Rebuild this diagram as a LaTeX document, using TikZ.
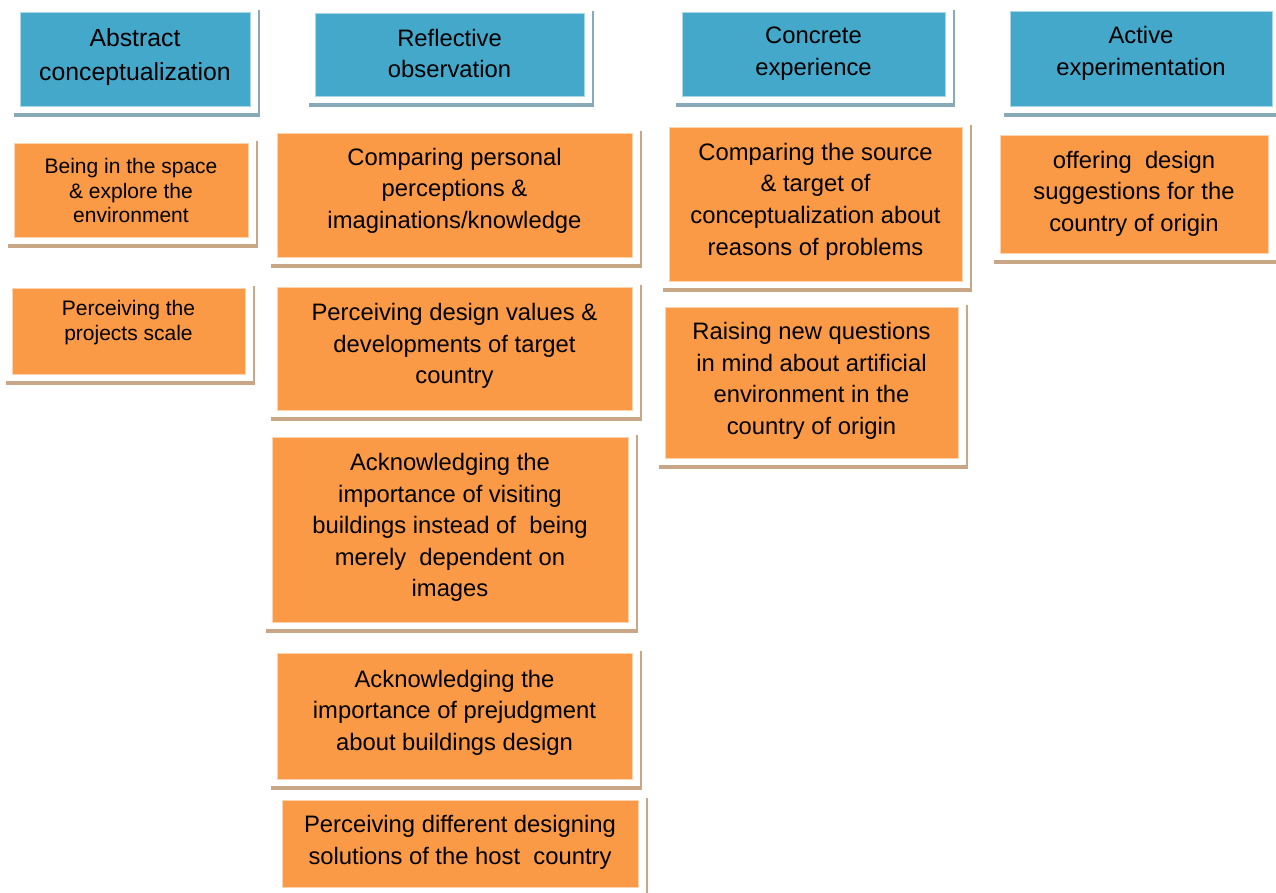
\documentclass[tikz,border=0pt]{standalone}
\usepackage{fontspec}
\setmainfont{Liberation Sans}
\usetikzlibrary{fit}

\definecolor{hdfill}{HTML}{44A8CA}
\definecolor{hdedge}{HTML}{A9D7E7}
\definecolor{hdshade}{HTML}{88A9B7}
\definecolor{itfill}{HTML}{FB9A46}
\definecolor{itedge}{HTML}{FDD3B0}
\definecolor{itshade}{HTML}{C9A686}

\tikzset{
  hdbox/.style={fill=hdfill, draw=hdedge, line width=0.8bp},
  itbox/.style={fill=itfill, draw=itedge, line width=0.8bp},
  hdshadow/.style={fill=hdshade},
  itshadow/.style={fill=itshade},
  txtbig/.style={font=\fontsize{23.8bp}{31.6bp}\selectfont, align=center, inner sep=0pt, yshift=-2.5bp},
  txtsmall/.style={font=\fontsize{21bp}{24.5bp}\selectfont, align=center, inner sep=0pt, yshift=-0.5bp},
  txttitle/.style={font=\fontsize{24.8bp}{34bp}\selectfont, align=center, inner sep=0pt, yshift=-2bp},
}

% #1 name, #2 kind (hd/it), #3-#6 left, top, right, bottom, #7 text centre y, #8 text style, #9 text
\newcommand\card[9]{%
  \fill[#2shadow] (#3-6,#4-2) rectangle (#5+10,#6+11);
  \fill[white] (#3-6,#4-3) rectangle (#5+8,#6+7);
  \node[#2box, fit={(#3,#4) (#5,#6)}, inner sep=0pt] (#1) {};
  \node[#8] (#1-t) at ({(#3+#5)/2},#7) {#9};
}

\begin{document}
\begin{tikzpicture}[x=1bp, y=-1bp]
  \useasboundingbox (0,0) rectangle (1276,893);
  \clip (0,0) rectangle (1276,893);
  \fill[white] (0,0) rectangle (1276,893);

  % column headings
  \card{abs}{hd}{20}{12}{250}{106}{55}{txttitle}{Abstract\\conceptualization}
  \card{ref}{hd}{315}{13}{584}{96}{51}{txtbig}{Reflective\\observation}
  \card{con}{hd}{682}{12}{945}{96}{51}{txtbig}{Concrete\\experience}
  \card{act}{hd}{1010}{11}{1272}{106}{51}{txtbig}{Active\\experimentation}

  % abstract conceptualization
  \card{abs1}{it}{14}{143}{248}{237}{190}{txtsmall}{Being in the space\\\& explore the\\environment}
  \card{abs2}{it}{12}{288}{245}{374}{322}{txtsmall}{Perceiving the\\projects scale}

  % reflective observation
  \card{ref1}{it}{277}{133}{632}{257}{188}{txtbig}{Comparing personal\\perceptions \&\\imaginations/knowledge}
  \card{ref2}{it}{277}{287}{632}{410}{343.5}{txtbig}{Perceiving design values \&\\developments of target\\country}
  \card{ref3}{it}{272}{437}{628}{622}{525}{txtbig}{Acknowledging the\\importance of visiting\\buildings instead of\ \ being\\merely\ \ dependent on\\images}
  \card{ref4}{it}{277}{653}{632}{779}{710}{txtbig}{Acknowledging the\\importance of prejudgment\\about buildings design}
  \card{ref5}{it}{282}{800}{638}{887}{840}{txtbig}{Perceiving different designing\\solutions of the host\ \ country}

  % concrete experience
  \card{con1}{it}{669}{127}{962}{281}{199}{txtbig}{Comparing the source\\\& target of\\conceptualization about\\reasons of problems}
  \card{con2}{it}{665}{307}{958}{458}{378.5}{txtbig}{Raising new questions\\in mind about artificial\\environment in the\\country of origin}

  % active experimentation
  \card{act1}{it}{1000}{135}{1268}{253}{191}{txtbig}{offering\ \ design\\suggestions for the\\country of origin}
\end{tikzpicture}
\end{document}
